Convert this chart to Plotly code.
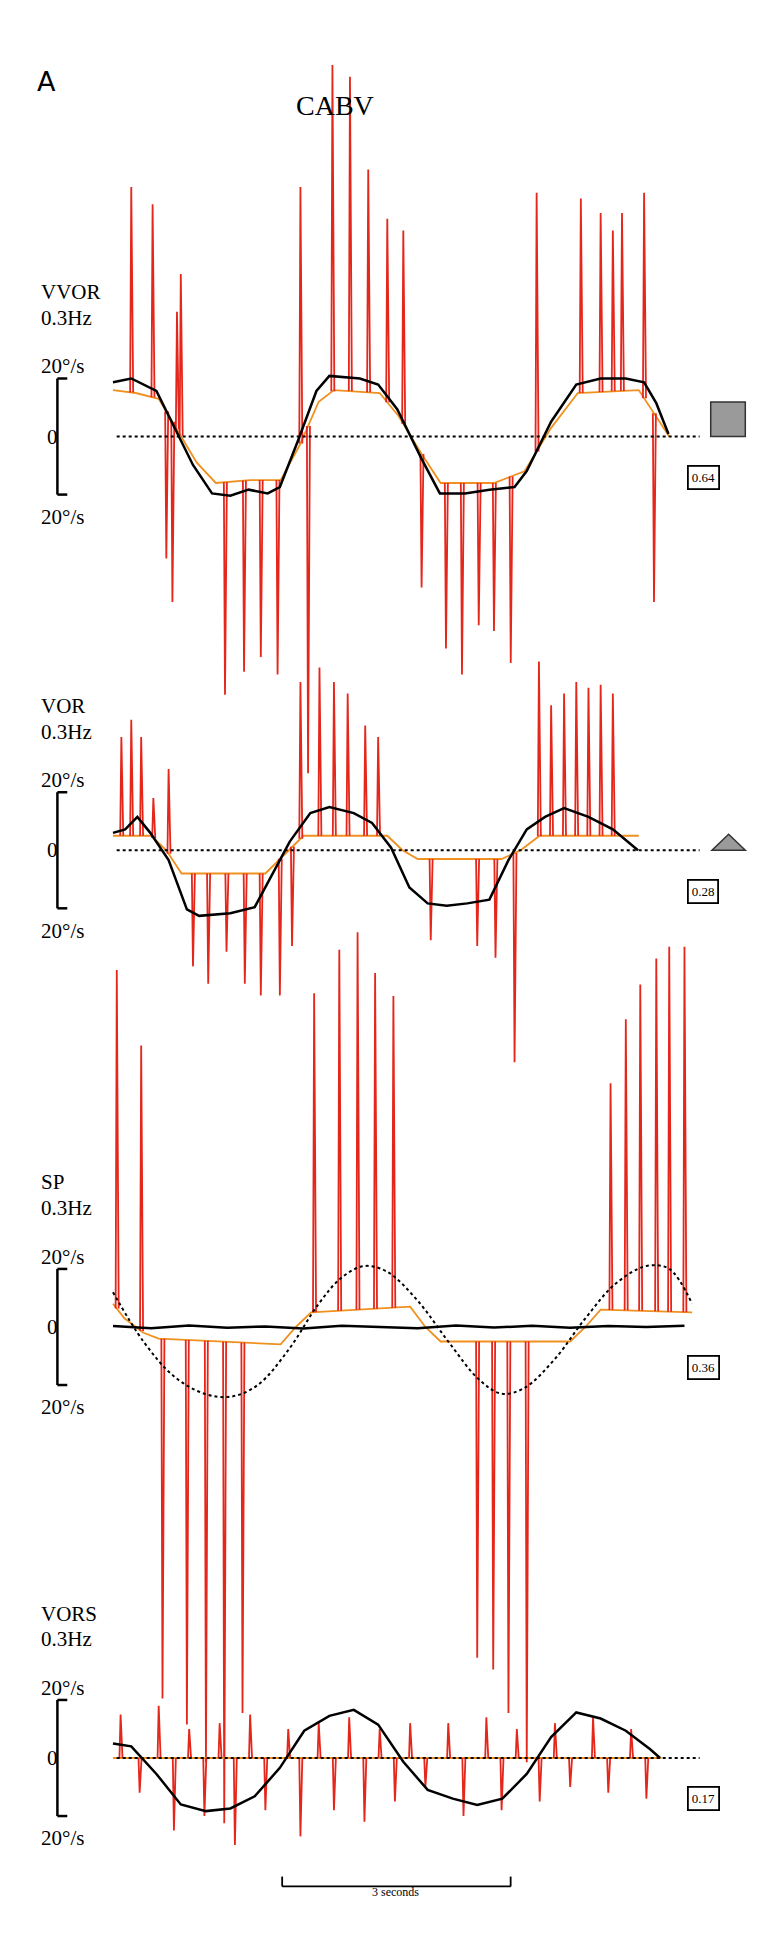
import numpy as np
import plotly.graph_objects as go

W, H = 766, 1940
S = 1.235            # layout was measured on a 0.81-scaled view of the figure
PX_PER_S = 61.7 * S      # 3 s scale bar
PX_PER_DEG = 2.35 * S    # 20 deg/s bracket
X0 = 85 * S              # trace start (px)

# ---- VVOR 0.3Hz ----
vvor_eye_t = [0, 0.24, 0.57, 0.81, 1.05, 1.30, 1.54, 1.78, 2.03, 2.19, 2.43, 2.67, 2.84, 3.24, 3.48,
              3.73, 4.05, 4.29, 4.62, 4.94, 5.27, 5.43, 5.75, 6.08, 6.40, 6.73, 6.97, 7.13, 7.29]
vvor_eye_v = [18.7, 20, 15.7, 3, -9.8, -19.6, -20.4, -18.3, -19.6, -17.4, -1.3, 15.7, 20.9, 20, 17.9,
              9.4, -7.7, -19.6, -19.6, -18.3, -17.4, -11.9, 5.1, 17.9, 20, 20, 18.7, 11.5, 0.9]
vvor_raw_t = [0, 0.3, 0.6, 0.85, 1.1, 1.35, 1.8, 2.2, 2.45, 2.7, 2.9, 3.5, 3.75, 4.05, 4.3, 5.0, 5.4,
              5.75, 6.1, 6.9, 7.1, 7.3]
vvor_raw_v = [16, 15, 13, 2, -9, -16, -15, -15, -3, 12, 16, 15, 7, -6, -16, -16, -12, 3, 15, 16, 8, 0]
vvor_spk_t = [0.24, 0.52, 0.84, 0.89, 2.46, 2.88, 3.11, 3.35, 3.60, 3.81, 5.56, 6.14, 6.40, 6.56, 6.68,
              6.97, 0.70, 0.78, 1.47, 1.72, 1.94, 2.16, 2.56, 4.05, 4.37, 4.58, 4.80, 5.00, 5.22, 7.10]
vvor_spk_v = [86, 80, 43, 56, 86, 128, 124, 92, 75, 71, 84, 82, 77, 71, 77,
              84, -42, -57, -89, -81, -76, -82, -116, -52, -73, -82, -65, -67, -78, -57]

# ---- VOR 0.3Hz ----
vor_eye_t = [0, 0.16, 0.32, 0.49, 0.73, 0.97, 1.13, 1.54, 1.86, 2.06, 2.32, 2.59, 2.84, 3.16, 3.40,
             3.65, 3.89, 4.13, 4.38, 4.65, 4.94, 5.19, 5.43, 5.67, 5.92, 6.24, 6.56, 6.89]
vor_eye_v = [6, 7.2, 11.5, 6, -3.4, -20.4, -22.6, -21.7, -19.6, -9.8, 3, 12.8, 14.9, 12.8, 9.4,
             0.9, -12.8, -18.3, -19.1, -18.3, -17, -3.4, 7.2, 11.5, 14.5, 11.5, 7.2, 0]
vor_raw_t = [0, 0.5, 0.7, 0.9, 2.0, 2.3, 2.5, 3.6, 3.8, 4.0, 5.1, 5.35, 5.6, 6.9]
vor_raw_v = [5, 5, 0, -8, -8, 0, 5, 5, 0, -3, -3, 0, 5, 5]
vor_spk_t = [0.11, 0.24, 0.37, 0.53, 0.73, 2.46, 2.71, 2.90, 3.08, 3.31, 3.48, 5.59, 5.75, 5.92, 6.08,
             6.24, 6.40, 6.56, 1.05, 1.25, 1.49, 1.73, 1.94, 2.19, 2.35, 4.17, 4.78, 5.02, 5.27]
vor_spk_v = [39, 45, 39, 18, 28, 58, 63, 58, 54, 43, 39, 65, 50, 54, 58,
             56, 57, 54, -40, -46, -35, -46, -50, -50, -33, -31, -33, -37, -73]

# ---- SP 0.3Hz ----
sp_eye_t = [0, 0.5, 1.0, 1.5, 2.0, 2.5, 3.0, 3.5, 4.0, 4.5, 5.0, 5.5, 6.0, 6.5, 7.0, 7.5]
sp_eye_v = [0.3, -0.4, 0.5, -0.3, 0.2, -0.5, 0.4, 0, -0.4, 0.5, -0.2, 0.4, -0.3, 0.3, 0, 0.4]
sp_tgt_t = [0, 0.4, 0.8, 1.2, 1.55, 1.9, 2.3, 2.7, 3.0, 3.3, 3.6, 4.0, 4.4, 4.8, 5.1, 5.4, 5.8, 6.2,
            6.6, 7.0, 7.3, 7.6]
sp_tgt_v = [12, -5, -17, -23, -24, -20, -8, 8, 17, 21, 19, 9, -5, -18, -23, -21, -11, 3, 15, 21, 20, 8]
sp_raw_t = [0, 0.15, 0.4, 0.6, 2.2, 2.4, 2.6, 3.9, 4.1, 4.3, 6.0, 6.2, 6.4, 7.6]
sp_raw_v = [8, 3, -2, -4, -6, 0, 5, 7, 0, -5, -5, 0, 6, 5]
sp_spk_t = [0.05, 0.37, 2.64, 2.97, 3.21, 3.44, 3.68, 6.53, 6.73, 6.92, 7.13, 7.30, 7.50,
            0.65, 0.97, 1.22, 1.46, 1.70, 4.78, 4.99, 5.19, 5.43]
sp_spk_v = [123, 97, 115, 130, 136, 122, 114, 84, 106, 118, 127, 131, 131,
            -128, -137, -150, -171, -133, -114, -118, -133, -150]

# ---- VORS 0.3Hz ----
vors_eye_t = [0, 0.24, 0.57, 0.89, 1.22, 1.54, 1.86, 2.19, 2.51, 2.84, 3.16, 3.48, 3.81, 4.13, 4.46,
              4.78, 5.11, 5.43, 5.75, 6.08, 6.40, 6.73, 7.05, 7.18]
vors_eye_v = [5, 4, -5.5, -16, -18.3, -17.4, -13.2, -3.4, 9.4, 14.5, 16.6, 11.5, -1.3, -11, -14,
              -16.2, -14, -5.5, 7.2, 15.7, 13.6, 9.4, 3, 0]
vors_raw_t = [0, 7.2]
vors_raw_v = [0, 0]
vors_spk_t = [0.1, 0.35, 0.6, 0.8, 1.0, 1.2, 1.4, 1.6, 1.8, 2.0, 2.3, 2.46, 2.7, 2.9, 3.1, 3.3, 3.5,
              3.7, 3.9, 4.1, 4.4, 4.6, 4.9, 5.1, 5.3, 5.6, 5.8, 6.0, 6.3, 6.5, 6.8, 7.0]
vors_spk_v = [15, -12, 18, -25, 10, -20, 12, -30, 15, -18, 10, -27, 12, -18, 14, -22, 10,
              -15, 12, -10, 12, -20, 14, -18, 10, -15, 12, -10, 14, -12, 10, -14]

panels = [
    # name, zero line (px, unscaled), eye, raw, spikes, gain, marker
    ("VVOR", 347, (vvor_eye_t, vvor_eye_v), (vvor_raw_t, vvor_raw_v), (vvor_spk_t, vvor_spk_v), "0.64", "square"),
    ("VOR", 682, (vor_eye_t, vor_eye_v), (vor_raw_t, vor_raw_v), (vor_spk_t, vor_spk_v), "0.28", "triangle"),
    ("SP", 1068, (sp_eye_t, sp_eye_v), (sp_raw_t, sp_raw_v), (sp_spk_t, sp_spk_v), "0.36", None),
    ("VORS", 1417, (vors_eye_t, vors_eye_v), (vors_raw_t, vors_raw_v), (vors_spk_t, vors_spk_v), "0.17", None),
]

RED = "#e5261b"
ORANGE = "#f0901e"
SERIF = "Liberation Serif"


def xp(px):
    return px * S / W


def yp(py):
    return 1 - py * S / H


fig = go.Figure()
layout = dict(
    width=W, height=H, margin=dict(l=0, r=0, t=0, b=0),
    paper_bgcolor="white", plot_bgcolor="white", showlegend=False,
    xaxis=dict(range=[-X0 / PX_PER_S, (W - X0) / PX_PER_S], visible=False, fixedrange=True),
)
annotations = []
shapes = []

for i, (name, zero, eye, raw, spk, gain, marker) in enumerate(panels):
    ax = "y" if i == 0 else f"y{i + 1}"
    key = "yaxis" if i == 0 else f"yaxis{i + 1}"
    zpx = zero * S
    layout[key] = dict(range=[-(H - zpx) / PX_PER_DEG, zpx / PX_PER_DEG], visible=False,
                       fixedrange=True)
    if i > 0:
        layout[key]["overlaying"] = "y"

    # spikes on top of the raw trace baseline
    st, sv = [], []
    for t, v in zip(*spk):
        b = float(np.interp(t, raw[0], raw[1]))
        st += [t - 0.015, t, t + 0.025, None]
        sv += [b, v, b, None]
    fig.add_trace(go.Scatter(x=raw[0], y=raw[1], mode="lines", yaxis=ax,
                             line=dict(color=ORANGE, width=1.8)))
    fig.add_trace(go.Scatter(x=st, y=sv, mode="lines", yaxis=ax,
                             line=dict(color=RED, width=1.8)))

    if name == "SP":
        fig.add_trace(go.Scatter(x=sp_tgt_t, y=sp_tgt_v, mode="lines", yaxis=ax, line_shape="spline",
                                 line=dict(color="black", width=2, dash="dot")))
    else:
        shapes.append(dict(type="line", xref="paper", yref="paper", x0=xp(88), x1=xp(560),
                           y0=yp(zero), y1=yp(zero), line=dict(color="black", width=2, dash="dot")))
    fig.add_trace(go.Scatter(x=eye[0], y=eye[1], mode="lines", yaxis=ax,
                             line=dict(color="black", width=2.5)))

    # labels and scale bracket
    top, bot = zero - 20 * 2.35, zero + 20 * 2.35
    annotations += [
        dict(x=xp(25), y=yp(zero - 117), text=name, xanchor="left"),
        dict(x=xp(25), y=yp(zero - 96), text="0.3Hz", xanchor="left"),
        dict(x=xp(25), y=yp(top - 10), text="20°/s", xanchor="left"),
        dict(x=xp(36), y=yp(zero), text="0", xanchor="center"),
        dict(x=xp(25), y=yp(bot + 18), text="20°/s", xanchor="left"),
        dict(x=xp(563), y=yp(zero + 33), text=gain, font=dict(size=13, family=SERIF, color="black"),
             bordercolor="black", borderwidth=1.8, borderpad=3, xanchor="center"),
    ]
    shapes += [
        dict(type="line", xref="paper", yref="paper", x0=xp(40), x1=xp(40), y0=yp(top), y1=yp(bot),
             line=dict(color="black", width=2.5)),
        dict(type="line", xref="paper", yref="paper", x0=xp(40), x1=xp(48), y0=yp(top), y1=yp(top),
             line=dict(color="black", width=2.5)),
        dict(type="line", xref="paper", yref="paper", x0=xp(40), x1=xp(48), y0=yp(bot), y1=yp(bot),
             line=dict(color="black", width=2.5)),
    ]
    if marker == "square":
        shapes.append(dict(type="rect", xref="paper", yref="paper", x0=xp(569), x1=xp(597),
                           y0=yp(zero - 28), y1=yp(zero), fillcolor="#9a9a9a",
                           line=dict(color="#333", width=1.5)))
    elif marker == "triangle":
        shapes.append(dict(type="path", xref="paper", yref="paper",
                           path=f"M {xp(570)} {yp(zero)} L {xp(597)} {yp(zero)} L {xp(583.5)} {yp(zero - 13)} Z",
                           fillcolor="#9a9a9a", line=dict(color="#333", width=1.5)))

for a in annotations:
    a.update(xref="paper", yref="paper", showarrow=False, yanchor="middle")
    a.setdefault("font", dict(size=21, family=SERIF, color="black"))

annotations += [
    dict(x=xp(22), y=yp(45), text="A", xref="paper", yref="paper", showarrow=False,
         font=dict(size=27, family="DejaVu Sans", color="black"), xanchor="left"),
    dict(x=xp(265), y=yp(65), text="CABV", xref="paper", yref="paper", showarrow=False,
         font=dict(size=28, family=SERIF, color="black")),
    dict(x=xp(314), y=yp(1533), text="3 seconds", xref="paper", yref="paper", showarrow=False,
         font=dict(size=12, family=SERIF, color="black")),
]
bar_t0 = (222 * S - X0) / PX_PER_S
shapes += [
    dict(type="line", xref="x", yref="paper", x0=bar_t0, x1=bar_t0 + 3,
         y0=yp(1521), y1=yp(1521), line=dict(color="black", width=1.8)),
    dict(type="line", xref="paper", yref="paper", x0=xp(222), x1=xp(222), y0=yp(1521), y1=yp(1513),
         line=dict(color="black", width=1.8)),
    dict(type="line", xref="paper", yref="paper", x0=xp(407), x1=xp(407), y0=yp(1521), y1=yp(1513),
         line=dict(color="black", width=1.8)),
]

layout["annotations"] = annotations
layout["shapes"] = shapes
fig.update_layout(**layout)
fig.write_html("out.html")
